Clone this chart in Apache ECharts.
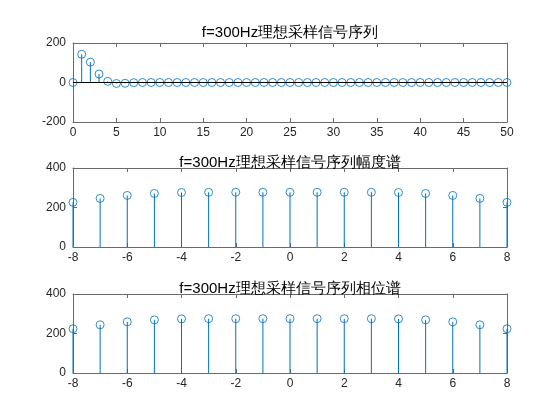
<!DOCTYPE html>
<html>
<head>
<meta charset="utf-8">
<script src="https://cdn.jsdelivr.net/npm/echarts@6/dist/echarts.min.js"></script>
<style>html,body{margin:0;padding:0;background:#fff;}#c{width:560px;height:420px;}</style>
</head>
<body>
<div id="c"></div>
<script>
// ---- data ----
const seqN = Array.from({length: 51}, (_, i) => i);
const seqVals = [0, 143, 103, 43, 6, -5, -4, -1, 0, 0,
  0, 0, 0, 0, 0, 0, 0, 0, 0, 0,
  0, 0, 0, 0, 0, 0, 0, 0, 0, 0,
  0, 0, 0, 0, 0, 0, 0, 0, 0, 0,
  0, 0, 0, 0, 0, 0, 0, 0, 0, 0, 0];
const specK = [-8, -7, -6, -5, -4, -3, -2, -1, 0, 1, 2, 3, 4, 5, 6, 7, 8];
const magVals = [226, 246, 261, 271, 276, 277, 277, 277, 277, 277, 277, 277, 276, 271, 261, 246, 226];
const phaseVals = [224, 244, 259, 269, 274, 275, 275, 275, 275, 275, 275, 275, 274, 269, 259, 244, 224];
const titles = ['f=300Hz理想采样信号序列', 'f=300Hz理想采样信号序列幅度谱', 'f=300Hz理想采样信号序列相位谱'];
const xRanges = [[0, 50, 5], [-8, 8, 2], [-8, 8, 2]];
const yRanges = [[-200, 200, 200], [0, 400, 200], [0, 400, 200]];

// ---- layout ----
const gridTops = [43, 168, 294];
const gridH = 79;
const titleTops = [20, 150, 276];
const blue = '#0072BD';
const axisCol = '#6a6a6a';
const txtCol = '#262626';
const font = 'Liberation Sans, Arial, sans-serif';

const panels = [
  {x: seqN, y: seqVals},
  {x: specK, y: magVals},
  {x: specK, y: phaseVals}
];

const grid = [], xAxis = [], yAxis = [], series = [], title = [];
panels.forEach((p, i) => {
  grid.push({left: 73, right: 53, top: gridTops[i], height: gridH});
  title.push({text: titles[i], left: 285, top: titleTops[i], textAlign: 'center',
    textStyle: {fontSize: 15, fontWeight: 'normal', color: '#000', fontFamily: font}});
  const [xmin, xmax, xint] = xRanges[i];
  const [ymin, ymax, yint] = yRanges[i];
  const baseAx = {
    type: 'value', gridIndex: i, min: xmin, max: xmax, interval: xint,
    axisLine: {show: true, onZero: false, lineStyle: {color: axisCol, width: 1}},
    axisTick: {show: true, inside: true, length: 4, lineStyle: {color: axisCol}},
    splitLine: {show: false}
  };
  xAxis.push(Object.assign({}, baseAx, {position: 'bottom',
    axisLabel: {color: txtCol, fontSize: 12, margin: 5, fontFamily: font}}));
  xAxis.push(Object.assign({}, baseAx, {position: 'top', axisLabel: {show: false}}));
  const baseAy = {
    type: 'value', gridIndex: i, min: ymin, max: ymax, interval: yint,
    axisLine: {show: true, onZero: false, lineStyle: {color: axisCol, width: 1}},
    axisTick: {show: true, inside: true, length: 4, lineStyle: {color: axisCol}},
    splitLine: {show: false}
  };
  yAxis.push(Object.assign({}, baseAy, {position: 'left',
    axisLabel: {color: txtCol, fontSize: 12, margin: 7, fontFamily: font}}));
  yAxis.push(Object.assign({}, baseAy, {position: 'right', axisLabel: {show: false}}));

  const data = p.x.map((xv, j) => [xv, p.y[j]]);
  series.push({
    type: 'custom', xAxisIndex: 2 * i, yAxisIndex: 2 * i,
    encode: {x: 0, y: 1}, data: data, clip: false, silent: true,
    renderItem: function (params, api) {
      const xv = api.value(0), yv = api.value(1);
      const p0 = api.coord([xv, 0]), p1 = api.coord([xv, yv]);
      return {type: 'line', shape: {x1: p0[0], y1: p0[1], x2: p1[0], y2: p1[1]},
        style: {stroke: blue, lineWidth: 1}};
    },
    markLine: i === 0 ? {
      silent: true, symbol: ['none', 'none'], label: {show: false},
      lineStyle: {color: '#000', width: 1, type: 'solid'},
      data: [{yAxis: 0}]
    } : undefined
  });
  series.push({
    type: 'scatter', xAxisIndex: 2 * i, yAxisIndex: 2 * i, data: data,
    symbol: 'circle', symbolSize: 8, silent: true,
    itemStyle: {color: 'rgba(255,255,255,0)', borderColor: blue, borderWidth: 1}
  });
});

const chart = echarts.init(document.getElementById('c'), null, {renderer: 'canvas'});
chart.setOption({backgroundColor: '#fff', animation: false, title, grid, xAxis, yAxis, series});
</script>
</body>
</html>
